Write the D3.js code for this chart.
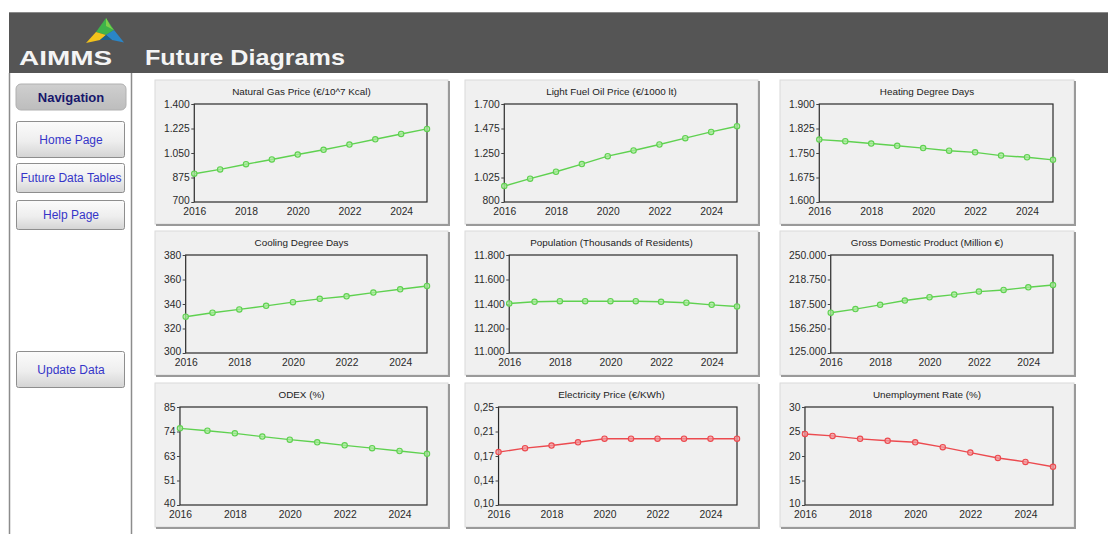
<!DOCTYPE html>
<html>
<head>
<meta charset="utf-8">
<script src="https://cdn.jsdelivr.net/npm/d3@7"></script>
<style>
  html, body { margin: 0; padding: 0; background: #ffffff; }
  svg { display: block; font-family: Arial, "Liberation Sans", sans-serif; }
</style>
</head>
<body>
<svg id="page" width="1108" height="534"></svg>
<script>
// Forecast years and axis ticks
const years = [2016, 2017, 2018, 2019, 2020, 2021, 2022, 2023, 2024, 2025];
const xTickYears = [2016, 2018, 2020, 2022, 2024];

// Series values
const naturalGasPrice   = [902, 933, 970, 1004, 1039, 1073, 1110, 1148, 1186, 1222];
const lightFuelOilPrice = [946, 1014, 1078, 1148, 1221, 1273, 1328, 1386, 1444, 1496];
const heatingDegreeDays = [1791, 1786, 1779, 1772, 1765, 1757, 1752, 1742, 1737, 1729];
const coolingDegreeDays = [329.6, 332.9, 335.6, 338.5, 341.5, 344.2, 346.3, 349.3, 352.0, 354.7];
const population        = [11404, 11418, 11423, 11423, 11423, 11423, 11418, 11410, 11393, 11380];
const gdp               = [176350, 180980, 186450, 191900, 196100, 199500, 203300, 205400, 208800, 211700];
const odex              = [75.2, 74.1, 72.9, 71.4, 70.0, 68.8, 67.4, 66.1, 64.8, 63.5];
const electricityPrice  = [0.181, 0.187, 0.191, 0.196, 0.2015, 0.2015, 0.2015, 0.2015, 0.2015, 0.2015];
const unemploymentRate  = [24.5, 24.1, 23.5, 23.1, 22.8, 21.8, 20.7, 19.6, 18.8, 17.8];

// Chart titles
const titles = [
  "Natural Gas Price (€/10^7 Kcal)", "Light Fuel Oil Price (€/1000 lt)", "Heating Degree Days",
  "Cooling Degree Days", "Population (Thousands of Residents)", "Gross Domestic Product (Million €)",
  "ODEX (%)", "Electricity Price (€/KWh)", "Unemployment Rate (%)"
];

// Y tick values and their printed labels
const yTickValues = [
  [700, 875, 1050, 1225, 1400],
  [800, 1025, 1250, 1475, 1700],
  [1600, 1675, 1750, 1825, 1900],
  [300, 320, 340, 360, 380],
  [11000, 11200, 11400, 11600, 11800],
  [125000, 156250, 187500, 218750, 250000],
  [40, 51.25, 62.5, 73.75, 85],
  [0.10, 0.1375, 0.175, 0.2125, 0.25],
  [10, 15, 20, 25, 30]
];
const yTickLabels = [
  ["700", "875", "1.050", "1.225", "1.400"],
  ["800", "1.025", "1.250", "1.475", "1.700"],
  ["1.600", "1.675", "1.750", "1.825", "1.900"],
  ["300", "320", "340", "360", "380"],
  ["11.000", "11.200", "11.400", "11.600", "11.800"],
  ["125.000", "156.250", "187.500", "218.750", "250.000"],
  ["40", "51", "63", "74", "85"],
  ["0,10", "0,14", "0,17", "0,21", "0,25"],
  ["10", "15", "20", "25", "30"]
];

// Navigation buttons
const navButtons = ["Home Page", "Future Data Tables", "Help Page", "Update Data"];

const seriesList = [naturalGasPrice, lightFuelOilPrice, heatingDegreeDays,
                    coolingDegreeDays, population, gdp,
                    odex, electricityPrice, unemploymentRate];
const seriesColor = ["green", "green", "green", "green", "green", "green", "green", "red", "red"];
const palette = {
  green: { line: "#5fd150", fill: "#a9eb9c" },
  red:   { line: "#ec4a4f", fill: "#f39a9d" }
};

const svg = d3.select("#page");
const defs = svg.append("defs");

const btnGrad = defs.append("linearGradient").attr("id", "btnGrad")
  .attr("x1", 0).attr("y1", 0).attr("x2", 0).attr("y2", 1);
btnGrad.append("stop").attr("offset", "0%").attr("stop-color", "#fbfbfb");
btnGrad.append("stop").attr("offset", "55%").attr("stop-color", "#eeeeee");
btnGrad.append("stop").attr("offset", "100%").attr("stop-color", "#d4d4d4");

const navGrad = defs.append("linearGradient").attr("id", "navGrad")
  .attr("x1", 0).attr("y1", 0).attr("x2", 0).attr("y2", 1);
navGrad.append("stop").attr("offset", "0%").attr("stop-color", "#cfcfcf");
navGrad.append("stop").attr("offset", "100%").attr("stop-color", "#bdbdbd");

// ---- Header band ----
svg.append("rect").attr("x", 9).attr("y", 12).attr("width", 1099).attr("height", 61)
  .attr("fill", "#555555");
svg.append("line").attr("x1", 9).attr("x2", 1108).attr("y1", 12.5).attr("y2", 12.5)
  .attr("stroke", "#8a8a8a");

// logo mark
const logo = svg.append("g");
logo.append("polygon").attr("points", "106,18 96,32 106,35 114,30").attr("fill", "#3fb34a");
logo.append("polygon").attr("points", "96,32 86,43 100,40 106,35").attr("fill", "#f2c21b");
logo.append("polygon").attr("points", "106,35 114,30 124,42.5 112,40").attr("fill", "#2a86c8");
logo.append("polygon").attr("points", "100,40 106,35 112,40").attr("fill", "#1d5f8a");
logo.append("polygon").attr("points", "106,18 111,27 114,30 106,26").attr("fill", "#7fd04a");

svg.append("text").attr("x", 19).attr("y", 65).attr("fill", "#f4f4f4")
  .attr("font-size", 20).attr("font-weight", "bold")
  .attr("textLength", 93).attr("lengthAdjust", "spacingAndGlyphs")
  .text("AIMMS");
svg.append("text").attr("x", 145).attr("y", 65).attr("fill", "#f4f4f4")
  .attr("font-size", 22.5).attr("font-weight", "bold")
  .attr("textLength", 200).attr("lengthAdjust", "spacingAndGlyphs")
  .text("Future Diagrams");

// ---- Sidebar ----
svg.append("line").attr("x1", 9.5).attr("x2", 9.5).attr("y1", 73).attr("y2", 534)
  .attr("stroke", "#8c8c8c").attr("stroke-width", 1.5);
svg.append("line").attr("x1", 131.5).attr("x2", 131.5).attr("y1", 73).attr("y2", 534)
  .attr("stroke", "#8c8c8c").attr("stroke-width", 1.5);

svg.append("rect").attr("x", 16).attr("y", 84).attr("width", 110).attr("height", 26)
  .attr("rx", 5).attr("fill", "url(#navGrad)").attr("stroke", "#b0b0b0");
svg.append("text").attr("x", 71).attr("y", 102).attr("text-anchor", "middle")
  .attr("font-size", 13).attr("font-weight", "bold").attr("fill", "#17176b")
  .text("Navigation");

const btnBoxes = [
  { y: 121, h: 36 }, { y: 163, h: 29 }, { y: 200, h: 29 }, { y: 351, h: 36 }
];
navButtons.forEach((label, i) => {
  const b = btnBoxes[i];
  svg.append("rect").attr("x", 16.5).attr("y", b.y + 0.5).attr("width", 108).attr("height", b.h)
    .attr("rx", 2).attr("fill", "url(#btnGrad)").attr("stroke", "#8e8e8e");
  svg.append("text").attr("x", 71).attr("y", b.y + b.h / 2 + 4.5).attr("text-anchor", "middle")
    .attr("font-size", 12).attr("fill", "#3535c8").text(label);
});

// ---- Chart panels ----
const colX = [155, 465, 780];
const colW = [293, 293, 294];
const rowY = [80, 231, 383];
const panelH = 144;

seriesList.forEach((values, idx) => {
  const col = idx % 3, row = Math.floor(idx / 3);
  const px = colX[col], py = rowY[row], pw = colW[col];
  const g = svg.append("g");

  // panel body with shaded edges
  g.append("rect").attr("x", px).attr("y", py).attr("width", pw).attr("height", panelH)
    .attr("fill", "#f0f0f0").attr("stroke", "#dadada");
  g.append("polyline")
    .attr("points", `${px + 1},${py + panelH + 1} ${px + pw + 1},${py + panelH + 1} ${px + pw + 1},${py + 1}`)
    .attr("fill", "none").attr("stroke", "#9a9a9a").attr("stroke-width", 2);

  // title
  g.append("text").attr("x", px + pw / 2).attr("y", py + 15).attr("text-anchor", "middle")
    .attr("font-size", 9.9).attr("fill", "#222").text(titles[idx]);

  // measure the widest y label to place the plot's left edge
  const probe = g.append("text").attr("font-size", 10.3).text(
    yTickLabels[idx].reduce((a, b) => (b.length > a.length ? b : a), ""));
  const labelW = probe.node().getComputedTextLength();
  probe.remove();

  const left = px + 10 + labelW + 3.5;
  const right = px + pw - 21;
  const top = py + 24;
  const bottom = py + 122;

  const x = d3.scaleLinear().domain([2016, 2025]).range([left, right]);
  const yTicks = yTickValues[idx];
  const y = d3.scaleLinear().domain([yTicks[0], yTicks[yTicks.length - 1]]).range([bottom, top]);

  // plot frame
  g.append("rect").attr("x", left).attr("y", top).attr("width", right - left).attr("height", bottom - top)
    .attr("fill", "#f0f0f0").attr("stroke", "#2a2a2a").attr("stroke-width", 1.2);

  // y axis
  const yAxis = g.append("g").attr("transform", `translate(${left},0)`)
    .call(d3.axisLeft(y).tickValues(yTicks)
      .tickFormat((d, i) => yTickLabels[idx][i]).tickSize(3).tickPadding(1.5));
  yAxis.select(".domain").remove();
  yAxis.selectAll("line").attr("stroke", "#444");
  yAxis.selectAll("text").attr("font-size", 10.3).attr("fill", "#2a2a2a")
    .attr("font-family", "Arial, 'Liberation Sans', sans-serif");
  // the lowest label sits a little above the baseline so it clears the year labels
  yAxis.selectAll(".tick").filter((d, i) => i === 0).select("text").attr("dy", "0.1em");

  // x axis
  const xAxis = g.append("g").attr("transform", `translate(0,${bottom})`)
    .call(d3.axisBottom(x).tickValues(xTickYears).tickFormat(d3.format("d")).tickSize(0).tickPadding(5.5));
  xAxis.select(".domain").remove();
  xAxis.selectAll("text").attr("font-size", 10.3).attr("fill", "#2a2a2a")
    .attr("font-family", "Arial, 'Liberation Sans', sans-serif");

  // series line and markers
  const col_ = palette[seriesColor[idx]];
  const pts = years.map((yr, i) => [yr, values[i]]);
  g.append("path").datum(pts)
    .attr("d", d3.line().x(d => x(d[0])).y(d => y(d[1])))
    .attr("fill", "none").attr("stroke", col_.line).attr("stroke-width", 1.4);
  g.selectAll("circle.m").data(pts).join("circle").attr("class", "m")
    .attr("cx", d => x(d[0])).attr("cy", d => y(d[1])).attr("r", 2.7)
    .attr("fill", col_.fill).attr("fill-opacity", 0.75)
    .attr("stroke", col_.line).attr("stroke-width", 1.1);
});
</script>
</body>
</html>
